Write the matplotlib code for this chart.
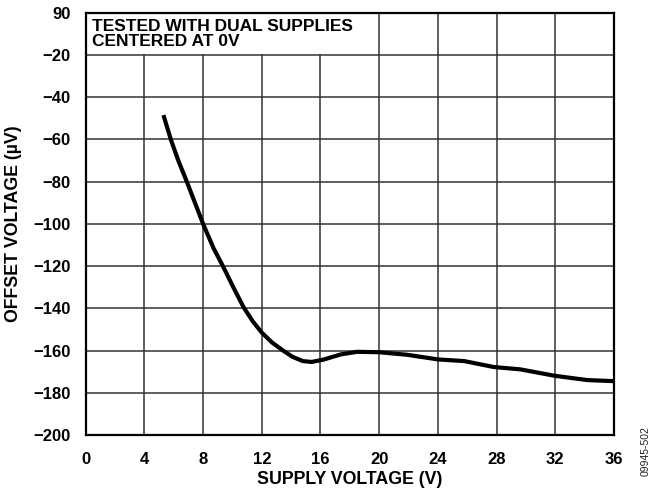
import matplotlib.pyplot as plt
from matplotlib.patches import Rectangle

plt.rcParams['font.family'] = ['Liberation Sans', 'DejaVu Sans']

# data
supply_v = [5.3, 5.8, 6.3, 6.89, 8.0, 8.71, 9.35, 10.08, 10.76, 11.4, 12.0, 12.7, 13.49, 14.1,
            14.8, 15.4, 16.2, 17.4, 18.5, 20.0, 21.9, 24.0, 25.8, 27.8, 29.6, 32.0, 34.2, 36.0]
offset_uv = [-48.5, -60.0, -69.8, -80.0, -100.0, -111.5, -120.0, -130.3, -139.5, -146.3, -151.5,
             -156.2, -160.2, -163.0, -165.0, -165.4, -164.3, -161.8, -160.6, -160.8, -162.0,
             -164.2, -165.0, -167.8, -168.9, -172.0, -174.0, -174.5]

x_ticks = [0, 4, 8, 12, 16, 20, 24, 28, 32, 36]
y_ticks = [-200, -180, -160, -140, -120, -100, -80, -60, -40, -20, 0]
y_tick_labels = ['\u2212200', '\u2212180', '\u2212160', '\u2212140', '\u2212120', '\u2212100',
                 '\u221280', '\u221260', '\u221240', '\u221220', '90']

fig = plt.figure(figsize=(6.53, 5.04), dpi=100)
ax = fig.add_axes([0.1312, 0.1369, 0.8091, 0.8379])

ax.plot(supply_v, offset_uv, color='black', lw=3, solid_capstyle='butt',
        solid_joinstyle='round', zorder=3)

ax.set_xlim(0, 36)
ax.set_ylim(-200, 0)
ax.set_xticks(x_ticks)
ax.set_xticklabels([str(t) for t in x_ticks])
ax.set_yticks(y_ticks)
ax.set_yticklabels(y_tick_labels)
ax.tick_params(axis='both', length=0, labelsize=12)
ax.tick_params(axis='x', pad=12)
ax.tick_params(axis='y', pad=11)
for lab in ax.get_xticklabels() + ax.get_yticklabels():
    lab.set_fontweight('bold')

ax.set_axisbelow(True)
ax.grid(True, color='#333333', lw=1.1)
for s in ax.spines.values():
    s.set_linewidth(1.6)
    s.set_color('black')

# white box under the note hides the grid in the top-left cells
ax.add_patch(Rectangle((0, -19.6), 19.9, 19.6, facecolor='white', edgecolor='none', zorder=1))
ax.text(0.4, -3.0, 'TESTED WITH DUAL SUPPLIES\nCENTERED AT 0V', fontsize=12.5, fontweight='bold',
        va='top', ha='left', linespacing=1.0, zorder=4)

ax.set_xlabel('SUPPLY VOLTAGE (V)', fontsize=12.8, fontweight='bold', labelpad=3)
ax.set_ylabel('OFFSET VOLTAGE (\u00b5V)', fontsize=12.8, fontweight='bold', labelpad=8)

fig.text(0.988, 0.105, '09945-502', rotation=90, fontsize=7.5, ha='center', va='center', color='#222222')

fig.savefig('out.png', dpi=100)
